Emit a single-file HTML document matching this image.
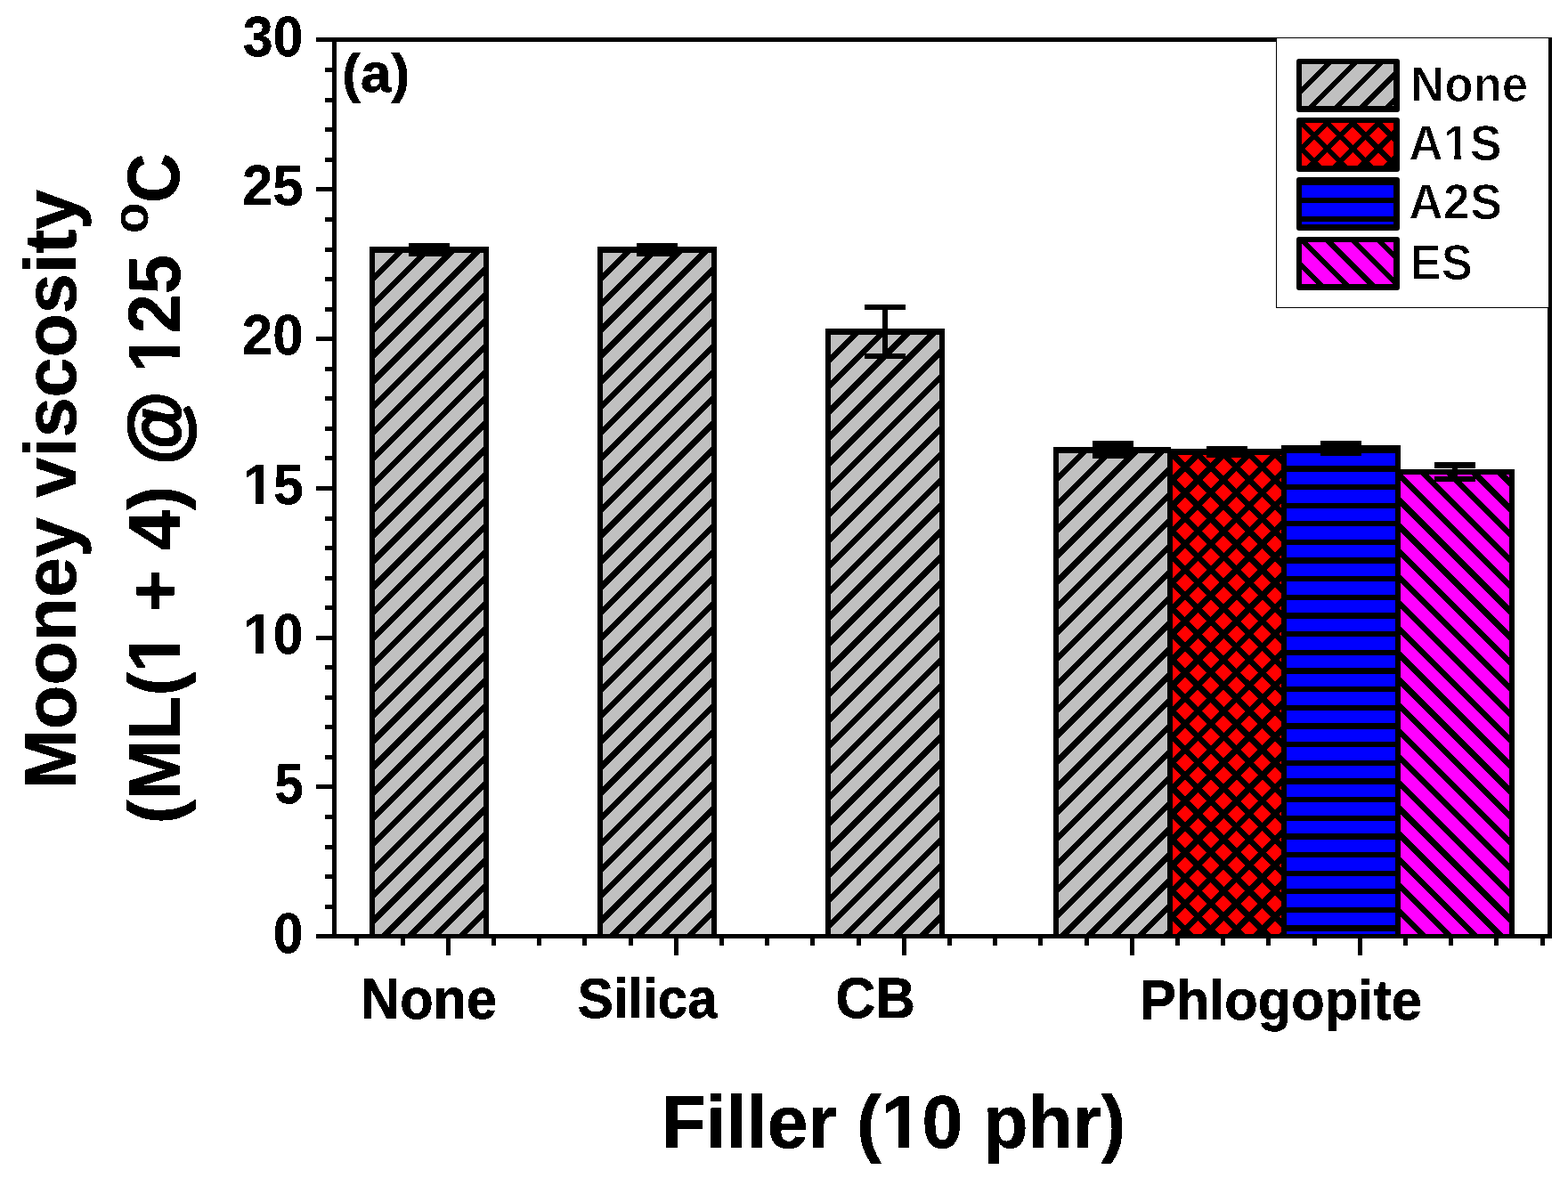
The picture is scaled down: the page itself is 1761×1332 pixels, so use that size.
<!DOCTYPE html>
<html lang="en"><head><meta charset="utf-8"><title>Mooney viscosity chart</title>
<style>html,body{margin:0;padding:0;background:#fff;overflow:hidden}svg{display:block}</style>
</head><body>
<svg width="1761" height="1332" viewBox="0 0 1761 1332" shape-rendering="crispEdges">
<rect width="1761" height="1332" fill="#fff"/>
<rect x="415" y="277" width="134" height="774" fill="#000"/>
<clipPath id="c1"><rect x="421" y="284" width="122" height="767"/></clipPath>
<rect x="421" y="284" width="122" height="767" fill="#c0c0c0"/>
<g clip-path="url(#c1)" stroke="#000" stroke-width="6.65" fill="none">
<path d="M411.00 320.92L553.00 178.92M411.00 349.79L553.00 207.79M411.00 378.66L553.00 236.66M411.00 407.53L553.00 265.53M411.00 436.40L553.00 294.40M411.00 465.27L553.00 323.27M411.00 494.14L553.00 352.14M411.00 523.01L553.00 381.01M411.00 551.88L553.00 409.88M411.00 580.75L553.00 438.75M411.00 609.62L553.00 467.62M411.00 638.49L553.00 496.49M411.00 667.36L553.00 525.36M411.00 696.23L553.00 554.23M411.00 725.10L553.00 583.10M411.00 753.97L553.00 611.97M411.00 782.84L553.00 640.84M411.00 811.71L553.00 669.71M411.00 840.58L553.00 698.58M411.00 869.45L553.00 727.45M411.00 898.32L553.00 756.32M411.00 927.19L553.00 785.19M411.00 956.06L553.00 814.06M411.00 984.93L553.00 842.93M411.00 1013.80L553.00 871.80M411.00 1042.67L553.00 900.67M411.00 1071.54L553.00 929.54M411.00 1100.41L553.00 958.41M411.00 1129.28L553.00 987.28M411.00 1158.15L553.00 1016.15M411.00 1187.02L553.00 1045.02"/>
</g>
<rect x="671" y="277" width="134" height="774" fill="#000"/>
<clipPath id="c2"><rect x="677" y="284" width="122" height="767"/></clipPath>
<rect x="677" y="284" width="122" height="767" fill="#c0c0c0"/>
<g clip-path="url(#c2)" stroke="#000" stroke-width="6.65" fill="none">
<path d="M667.00 320.92L809.00 178.92M667.00 349.79L809.00 207.79M667.00 378.66L809.00 236.66M667.00 407.53L809.00 265.53M667.00 436.40L809.00 294.40M667.00 465.27L809.00 323.27M667.00 494.14L809.00 352.14M667.00 523.01L809.00 381.01M667.00 551.88L809.00 409.88M667.00 580.75L809.00 438.75M667.00 609.62L809.00 467.62M667.00 638.49L809.00 496.49M667.00 667.36L809.00 525.36M667.00 696.23L809.00 554.23M667.00 725.10L809.00 583.10M667.00 753.97L809.00 611.97M667.00 782.84L809.00 640.84M667.00 811.71L809.00 669.71M667.00 840.58L809.00 698.58M667.00 869.45L809.00 727.45M667.00 898.32L809.00 756.32M667.00 927.19L809.00 785.19M667.00 956.06L809.00 814.06M667.00 984.93L809.00 842.93M667.00 1013.80L809.00 871.80M667.00 1042.67L809.00 900.67M667.00 1071.54L809.00 929.54M667.00 1100.41L809.00 958.41M667.00 1129.28L809.00 987.28M667.00 1158.15L809.00 1016.15M667.00 1187.02L809.00 1045.02"/>
</g>
<rect x="927" y="369" width="134" height="682" fill="#000"/>
<clipPath id="c3"><rect x="933" y="376" width="122" height="675"/></clipPath>
<rect x="933" y="376" width="122" height="675" fill="#c0c0c0"/>
<g clip-path="url(#c3)" stroke="#000" stroke-width="6.65" fill="none">
<path d="M923.00 412.92L1065.00 270.92M923.00 441.79L1065.00 299.79M923.00 470.66L1065.00 328.66M923.00 499.53L1065.00 357.53M923.00 528.40L1065.00 386.40M923.00 557.27L1065.00 415.27M923.00 586.14L1065.00 444.14M923.00 615.01L1065.00 473.01M923.00 643.88L1065.00 501.88M923.00 672.75L1065.00 530.75M923.00 701.62L1065.00 559.62M923.00 730.49L1065.00 588.49M923.00 759.36L1065.00 617.36M923.00 788.23L1065.00 646.23M923.00 817.10L1065.00 675.10M923.00 845.97L1065.00 703.97M923.00 874.84L1065.00 732.84M923.00 903.71L1065.00 761.71M923.00 932.58L1065.00 790.58M923.00 961.45L1065.00 819.45M923.00 990.32L1065.00 848.32M923.00 1019.19L1065.00 877.19M923.00 1048.06L1065.00 906.06M923.00 1076.93L1065.00 934.93M923.00 1105.80L1065.00 963.80M923.00 1134.67L1065.00 992.67M923.00 1163.54L1065.00 1021.54M923.00 1192.41L1065.00 1050.41"/>
</g>
<rect x="1183" y="502" width="134" height="549" fill="#000"/>
<clipPath id="c4"><rect x="1189" y="509" width="122" height="542"/></clipPath>
<rect x="1189" y="509" width="122" height="542" fill="#c0c0c0"/>
<g clip-path="url(#c4)" stroke="#000" stroke-width="6.65" fill="none">
<path d="M1179.00 545.92L1321.00 403.92M1179.00 574.79L1321.00 432.79M1179.00 603.66L1321.00 461.66M1179.00 632.53L1321.00 490.53M1179.00 661.40L1321.00 519.40M1179.00 690.27L1321.00 548.27M1179.00 719.14L1321.00 577.14M1179.00 748.01L1321.00 606.01M1179.00 776.88L1321.00 634.88M1179.00 805.75L1321.00 663.75M1179.00 834.62L1321.00 692.62M1179.00 863.49L1321.00 721.49M1179.00 892.36L1321.00 750.36M1179.00 921.23L1321.00 779.23M1179.00 950.10L1321.00 808.10M1179.00 978.97L1321.00 836.97M1179.00 1007.84L1321.00 865.84M1179.00 1036.71L1321.00 894.71M1179.00 1065.58L1321.00 923.58M1179.00 1094.45L1321.00 952.45M1179.00 1123.32L1321.00 981.32M1179.00 1152.19L1321.00 1010.19M1179.00 1181.06L1321.00 1039.06"/>
</g>
<rect x="1315" y="502" width="2" height="2" fill="#fff"/>
<rect x="1311" y="504" width="134" height="547" fill="#000"/>
<clipPath id="c5"><rect x="1317" y="510.6" width="122" height="540.4"/></clipPath>
<rect x="1317" y="510.6" width="122" height="540.4" fill="#ff0000"/>
<g clip-path="url(#c5)" stroke="#000" stroke-width="6.65" fill="none">
<path d="M1307.00 490.85L1449.00 348.85M1307.00 519.70L1449.00 377.70M1307.00 548.55L1449.00 406.55M1307.00 577.40L1449.00 435.40M1307.00 606.25L1449.00 464.25M1307.00 635.10L1449.00 493.10M1307.00 663.95L1449.00 521.95M1307.00 692.80L1449.00 550.80M1307.00 721.65L1449.00 579.65M1307.00 750.50L1449.00 608.50M1307.00 779.35L1449.00 637.35M1307.00 808.20L1449.00 666.20M1307.00 837.05L1449.00 695.05M1307.00 865.90L1449.00 723.90M1307.00 894.75L1449.00 752.75M1307.00 923.60L1449.00 781.60M1307.00 952.45L1449.00 810.45M1307.00 981.30L1449.00 839.30M1307.00 1010.15L1449.00 868.15M1307.00 1039.00L1449.00 897.00M1307.00 1067.85L1449.00 925.85M1307.00 1096.70L1449.00 954.70M1307.00 1125.55L1449.00 983.55M1307.00 1154.40L1449.00 1012.40M1307.00 1183.25L1449.00 1041.25M1307.00 1077.60L1449.00 1219.60M1307.00 1048.75L1449.00 1190.75M1307.00 1019.90L1449.00 1161.90M1307.00 991.05L1449.00 1133.05M1307.00 962.20L1449.00 1104.20M1307.00 933.35L1449.00 1075.35M1307.00 904.50L1449.00 1046.50M1307.00 875.65L1449.00 1017.65M1307.00 846.80L1449.00 988.80M1307.00 817.95L1449.00 959.95M1307.00 789.10L1449.00 931.10M1307.00 760.25L1449.00 902.25M1307.00 731.40L1449.00 873.40M1307.00 702.55L1449.00 844.55M1307.00 673.70L1449.00 815.70M1307.00 644.85L1449.00 786.85M1307.00 616.00L1449.00 758.00M1307.00 587.15L1449.00 729.15M1307.00 558.30L1449.00 700.30M1307.00 529.45L1449.00 671.45M1307.00 500.60L1449.00 642.60M1307.00 471.75L1449.00 613.75M1307.00 442.90L1449.00 584.90M1307.00 414.05L1449.00 556.05M1307.00 385.20L1449.00 527.20"/>
</g>
<rect x="1439" y="500" width="134" height="551" fill="#000"/>
<clipPath id="c6"><rect x="1445" y="509" width="122" height="542"/></clipPath>
<rect x="1445" y="509" width="122" height="542" fill="#0000ff"/>
<g clip-path="url(#c6)" stroke="#000" stroke-width="6.30" fill="none">
<path d="M1440.00 485.05L1572.00 485.05M1440.00 505.70L1572.00 505.70M1440.00 526.35L1572.00 526.35M1440.00 547.00L1572.00 547.00M1440.00 567.65L1572.00 567.65M1440.00 588.30L1572.00 588.30M1440.00 608.95L1572.00 608.95M1440.00 629.60L1572.00 629.60M1440.00 650.25L1572.00 650.25M1440.00 670.90L1572.00 670.90M1440.00 691.55L1572.00 691.55M1440.00 712.20L1572.00 712.20M1440.00 732.85L1572.00 732.85M1440.00 753.50L1572.00 753.50M1440.00 774.15L1572.00 774.15M1440.00 794.80L1572.00 794.80M1440.00 815.45L1572.00 815.45M1440.00 836.10L1572.00 836.10M1440.00 856.75L1572.00 856.75M1440.00 877.40L1572.00 877.40M1440.00 898.05L1572.00 898.05M1440.00 918.70L1572.00 918.70M1440.00 939.35L1572.00 939.35M1440.00 960.00L1572.00 960.00M1440.00 980.65L1572.00 980.65M1440.00 1001.30L1572.00 1001.30M1440.00 1021.95L1572.00 1021.95M1440.00 1042.60L1572.00 1042.60"/>
</g>
<rect x="1567" y="527" width="134" height="524" fill="#000"/>
<clipPath id="c7"><rect x="1573" y="533" width="122" height="518"/></clipPath>
<rect x="1573" y="533" width="122" height="518" fill="#ff00ff"/>
<g clip-path="url(#c7)" stroke="#000" stroke-width="6.65" fill="none">
<path d="M1563.00 1072.57L1705.00 1214.57M1563.00 1043.74L1705.00 1185.74M1563.00 1014.91L1705.00 1156.91M1563.00 986.08L1705.00 1128.08M1563.00 957.25L1705.00 1099.25M1563.00 928.42L1705.00 1070.42M1563.00 899.59L1705.00 1041.59M1563.00 870.76L1705.00 1012.76M1563.00 841.93L1705.00 983.93M1563.00 813.10L1705.00 955.10M1563.00 784.27L1705.00 926.27M1563.00 755.44L1705.00 897.44M1563.00 726.61L1705.00 868.61M1563.00 697.78L1705.00 839.78M1563.00 668.95L1705.00 810.95M1563.00 640.12L1705.00 782.12M1563.00 611.29L1705.00 753.29M1563.00 582.46L1705.00 724.46M1563.00 553.63L1705.00 695.63M1563.00 524.80L1705.00 666.80M1563.00 495.97L1705.00 637.97M1563.00 467.14L1705.00 609.14M1563.00 438.31L1705.00 580.31M1563.00 409.48L1705.00 551.48"/>
</g>
<rect x="459.0" y="273" width="46" height="15" fill="#000"/>
<rect x="715.0" y="273" width="46" height="15" fill="#000"/>
<rect x="971" y="342" width="46" height="6" fill="#000"/>
<rect x="971" y="397" width="46" height="6" fill="#000"/>
<rect x="991" y="345" width="6" height="55" fill="#000"/>
<rect x="1227.0" y="495" width="46" height="20" fill="#000"/>
<rect x="1355.0" y="501" width="46" height="13" fill="#000"/>
<rect x="1483.0" y="495" width="46" height="17" fill="#000"/>
<rect x="1611" y="519" width="46" height="7" fill="#000"/>
<rect x="1611" y="535" width="46" height="6" fill="#000"/>
<rect x="1631" y="522" width="6" height="16" fill="#000"/>
<rect x="373" y="42" width="5" height="1012" fill="#000"/>
<rect x="1738" y="42" width="5" height="1012" fill="#000"/>
<rect x="355" y="42" width="1388" height="5" fill="#000"/>
<rect x="355" y="1049" width="1388" height="5" fill="#000"/>
<rect x="355" y="1049" width="18" height="5" fill="#000"/>
<rect x="365" y="1016" width="8" height="5" fill="#000"/>
<rect x="365" y="982" width="8" height="5" fill="#000"/>
<rect x="365" y="949" width="8" height="5" fill="#000"/>
<rect x="365" y="915" width="8" height="5" fill="#000"/>
<rect x="355" y="881" width="18" height="5" fill="#000"/>
<rect x="365" y="848" width="8" height="5" fill="#000"/>
<rect x="365" y="814" width="8" height="5" fill="#000"/>
<rect x="365" y="781" width="8" height="5" fill="#000"/>
<rect x="365" y="747" width="8" height="5" fill="#000"/>
<rect x="355" y="714" width="18" height="5" fill="#000"/>
<rect x="365" y="680" width="8" height="5" fill="#000"/>
<rect x="365" y="647" width="8" height="5" fill="#000"/>
<rect x="365" y="613" width="8" height="5" fill="#000"/>
<rect x="365" y="580" width="8" height="5" fill="#000"/>
<rect x="355" y="546" width="18" height="5" fill="#000"/>
<rect x="365" y="512" width="8" height="5" fill="#000"/>
<rect x="365" y="479" width="8" height="5" fill="#000"/>
<rect x="365" y="445" width="8" height="5" fill="#000"/>
<rect x="365" y="412" width="8" height="5" fill="#000"/>
<rect x="355" y="378" width="18" height="5" fill="#000"/>
<rect x="365" y="345" width="8" height="5" fill="#000"/>
<rect x="365" y="311" width="8" height="5" fill="#000"/>
<rect x="365" y="278" width="8" height="5" fill="#000"/>
<rect x="365" y="244" width="8" height="5" fill="#000"/>
<rect x="355" y="210" width="18" height="5" fill="#000"/>
<rect x="365" y="177" width="8" height="5" fill="#000"/>
<rect x="365" y="143" width="8" height="5" fill="#000"/>
<rect x="365" y="110" width="8" height="5" fill="#000"/>
<rect x="365" y="76" width="8" height="5" fill="#000"/>
<rect x="355" y="42" width="18" height="5" fill="#000"/>
<rect x="398" y="1054" width="5" height="8" fill="#000"/>
<rect x="450" y="1054" width="5" height="8" fill="#000"/>
<rect x="501" y="1054" width="5" height="19" fill="#000"/>
<rect x="552" y="1054" width="5" height="8" fill="#000"/>
<rect x="603" y="1054" width="5" height="8" fill="#000"/>
<rect x="654" y="1054" width="5" height="8" fill="#000"/>
<rect x="706" y="1054" width="5" height="8" fill="#000"/>
<rect x="757" y="1054" width="5" height="19" fill="#000"/>
<rect x="808" y="1054" width="5" height="8" fill="#000"/>
<rect x="859" y="1054" width="5" height="8" fill="#000"/>
<rect x="910" y="1054" width="5" height="8" fill="#000"/>
<rect x="962" y="1054" width="5" height="8" fill="#000"/>
<rect x="1013" y="1054" width="5" height="19" fill="#000"/>
<rect x="1064" y="1054" width="5" height="8" fill="#000"/>
<rect x="1115" y="1054" width="5" height="8" fill="#000"/>
<rect x="1166" y="1054" width="5" height="8" fill="#000"/>
<rect x="1218" y="1054" width="5" height="8" fill="#000"/>
<rect x="1269" y="1054" width="5" height="19" fill="#000"/>
<rect x="1320" y="1054" width="5" height="8" fill="#000"/>
<rect x="1371" y="1054" width="5" height="8" fill="#000"/>
<rect x="1422" y="1054" width="5" height="8" fill="#000"/>
<rect x="1474" y="1054" width="5" height="8" fill="#000"/>
<rect x="1525" y="1054" width="5" height="19" fill="#000"/>
<rect x="1576" y="1054" width="5" height="8" fill="#000"/>
<rect x="1627" y="1054" width="5" height="8" fill="#000"/>
<rect x="1678" y="1054" width="5" height="8" fill="#000"/>
<rect x="1730" y="1054" width="5" height="8" fill="#000"/>
<rect x="1433" y="42" width="307" height="304" fill="#000"/>
<rect x="1434" y="43" width="305" height="302" fill="#fff"/>
<rect x="1739" y="42" width="4" height="304" fill="#000"/>
<rect x="1456" y="66" width="116" height="60" rx="3" ry="3" fill="#000" shape-rendering="auto"/>
<clipPath id="c8"><rect x="1462" y="72" width="103" height="47"/></clipPath>
<rect x="1462" y="72" width="103" height="47" fill="#c0c0c0"/>
<g clip-path="url(#c8)" stroke="#000" stroke-width="5.80" fill="none">
<path d="M1452.00 111.37L1575.00 -11.63M1452.00 140.24L1575.00 17.24M1452.00 169.11L1575.00 46.11M1452.00 197.98L1575.00 74.98M1452.00 226.85L1575.00 103.85"/>
</g>
<rect x="1456" y="132" width="116" height="61" rx="3" ry="3" fill="#000" shape-rendering="auto"/>
<clipPath id="c9"><rect x="1462" y="138" width="103" height="48"/></clipPath>
<rect x="1462" y="138" width="103" height="48" fill="#ff0000"/>
<g clip-path="url(#c9)" stroke="#000" stroke-width="5.80" fill="none">
<path d="M1452.00 118.85L1575.00 -4.15M1452.00 147.70L1575.00 24.70M1452.00 176.55L1575.00 53.55M1452.00 205.40L1575.00 82.40M1452.00 234.25L1575.00 111.25M1452.00 263.10L1575.00 140.10M1452.00 291.95L1575.00 168.95M1452.00 215.15L1575.00 338.15M1452.00 186.30L1575.00 309.30M1452.00 157.45L1575.00 280.45M1452.00 128.60L1575.00 251.60M1452.00 99.75L1575.00 222.75M1452.00 70.90L1575.00 193.90M1452.00 42.05L1575.00 165.05M1452.00 13.20L1575.00 136.20"/>
</g>
<rect x="1456" y="199" width="116" height="60" rx="3" ry="3" fill="#000" shape-rendering="auto"/>
<clipPath id="c10"><rect x="1462" y="205" width="103" height="47"/></clipPath>
<rect x="1462" y="205" width="103" height="47" fill="#0000ff"/>
<g clip-path="url(#c10)" stroke="#000" stroke-width="5.80" fill="none">
<path d="M1457.00 184.05L1570.00 184.05M1457.00 204.70L1570.00 204.70M1457.00 225.35L1570.00 225.35M1457.00 246.00L1570.00 246.00"/>
</g>
<rect x="1456" y="266" width="116" height="60" rx="3" ry="3" fill="#000" shape-rendering="auto"/>
<clipPath id="c11"><rect x="1462" y="272" width="103" height="47"/></clipPath>
<rect x="1462" y="272" width="103" height="47" fill="#ff00ff"/>
<g clip-path="url(#c11)" stroke="#000" stroke-width="5.80" fill="none">
<path d="M1452.00 346.29L1575.00 469.29M1452.00 317.46L1575.00 440.46M1452.00 288.63L1575.00 411.63M1452.00 259.80L1575.00 382.80M1452.00 230.97L1575.00 353.97M1452.00 202.14L1575.00 325.14M1452.00 173.31L1575.00 296.31M1452.00 144.48L1575.00 267.48"/>
</g>
<filter id="al" x="0" y="0" width="1761" height="1332" filterUnits="userSpaceOnUse" color-interpolation-filters="sRGB"><feComponentTransfer><feFuncR type="discrete" tableValues="0 1"/><feFuncG type="discrete" tableValues="0 1"/><feFuncB type="discrete" tableValues="0 1"/><feFuncA type="discrete" tableValues="0 1"/></feComponentTransfer></filter>
<clipPath id="k1" clipPathUnits="userSpaceOnUse"><path clip-rule="evenodd" d="M-60-130H760V60H-60ZM3.00-10.2H22.90V3H3.00ZM37.50-10.2H55.50V3H37.50Z"/></clipPath>
<clipPath id="k2" clipPathUnits="userSpaceOnUse"><path clip-rule="evenodd" d="M-60-130H760V60H-60ZM3.00-10.2H22.90V3H3.00ZM37.50-10.2H55.50V3H37.50Z"/></clipPath>
<clipPath id="k3" clipPathUnits="userSpaceOnUse"><path clip-rule="evenodd" d="M-60-130H760V60H-60ZM303.05-10.2H322.95V3H303.05ZM337.55-10.2H355.55V3H337.55Z"/></clipPath>
<clipPath id="k4" clipPathUnits="userSpaceOnUse"><path clip-rule="evenodd" d="M-60-130H760V60H-60ZM75.20-10.2H95.10V3H75.20ZM109.70-10.2H127.70V3H109.70Z"/></clipPath>
<clipPath id="k5" clipPathUnits="userSpaceOnUse"><path clip-rule="evenodd" d="M-60-130H760V60H-60ZM213.98-10.2H233.88V3H213.98ZM248.48-10.2H266.48V3H248.48Z"/></clipPath>
<clipPath id="k6" clipPathUnits="userSpaceOnUse"><path clip-rule="evenodd" d="M-60-130H760V60H-60ZM3.00-10.2H22.90V3H3.00ZM37.50-10.2H55.50V3H37.50Z"/></clipPath>
<g filter="url(#al)" font-family="'Liberation Sans', sans-serif" font-weight="bold" fill="#000" shape-rendering="auto" text-rendering="geometricPrecision">
<text transform="translate(272.68 62.62) scale(0.6095 0.6380)" font-size="100" stroke="#000" stroke-width="0.55" stroke-linejoin="miter">30</text>
<text transform="translate(271.89 230.46) scale(0.6180 0.6380)" font-size="100" stroke="#000" stroke-width="0.55" stroke-linejoin="miter">25</text>
<text transform="translate(271.79 398.29) scale(0.6177 0.6380)" font-size="100" stroke="#000" stroke-width="0.55" stroke-linejoin="miter">20</text>
<text transform="translate(273.16 566.12) scale(0.6073 0.6380)" font-size="100" stroke="#000" stroke-width="0.55" stroke-linejoin="miter" clip-path="url(#k1)">15</text>
<text transform="translate(273.17 733.96) scale(0.6049 0.6380)" font-size="100" stroke="#000" stroke-width="0.55" stroke-linejoin="miter" clip-path="url(#k2)">10</text>
<text transform="translate(308.51 901.79) scale(0.5791 0.6380)" font-size="100" stroke="#000" stroke-width="0.55" stroke-linejoin="miter">5</text>
<text transform="translate(306.83 1069.62) scale(0.6062 0.6380)" font-size="100" stroke="#000" stroke-width="0.55" stroke-linejoin="miter">0</text>
<text transform="translate(404.92 1143.65) scale(0.6127 0.6420)" font-size="100" stroke="#000" stroke-width="1.08" stroke-linejoin="miter">None</text>
<text transform="translate(648.65 1142.65) scale(0.6004 0.6320)" font-size="100" stroke="#000" stroke-width="1.09" stroke-linejoin="miter">Silica</text>
<text transform="translate(938.43 1142.65) scale(0.6190 0.6450)" font-size="100" stroke="#000" stroke-width="1.07" stroke-linejoin="miter">CB</text>
<text transform="translate(1279.92 1144.65) scale(0.6133 0.6320)" font-size="100" stroke="#000" stroke-width="1.09" stroke-linejoin="miter">Phlogopite</text>
<text transform="translate(742.75 1288.65) scale(0.8233 0.8370)" font-size="100" stroke="#000" stroke-width="0.83" stroke-linejoin="miter" clip-path="url(#k3)">Filler (10 phr)</text>
<text transform="translate(384.20 102.95) scale(0.6225 0.6070)" font-size="100" stroke="#000" stroke-width="1.14" stroke-linejoin="miter">(a)</text>
<text transform="translate(1584.03 113.50) scale(0.5289 0.5624)" font-size="100" stroke="#fff" stroke-width="1.81" stroke-linejoin="miter">None</text>
<text transform="translate(1581.88 179.50) scale(0.5382 0.5624)" font-size="100" stroke="#fff" stroke-width="1.81" stroke-linejoin="miter" clip-path="url(#k4)">A1S</text>
<text transform="translate(1581.88 246.40) scale(0.5398 0.5624)" font-size="100" stroke="#fff" stroke-width="1.81" stroke-linejoin="miter">A2S</text>
<text transform="translate(1583.87 313.50) scale(0.5240 0.5624)" font-size="100" stroke="#fff" stroke-width="1.81" stroke-linejoin="miter">ES</text>
<text transform="translate(85.25 886.15) rotate(-90) scale(0.8076 0.8270)" font-size="100" stroke="#000" stroke-width="0.84" stroke-linejoin="miter">Mooney viscosity</text>
<text transform="translate(201.75 925.14) rotate(-90) scale(0.8080 0.8270)" font-size="100" stroke="#000" stroke-width="0.84" stroke-linejoin="miter" clip-path="url(#k5)">(ML(1 + 4)</text>
<text transform="translate(206.40 522.09) rotate(-90) scale(0.8471 0.8750)" font-size="100" stroke="#000" stroke-width="3.2" stroke-linejoin="round">@</text>
<text transform="translate(201.92 418.67) rotate(-90) scale(0.7956 0.8310)" font-size="100" stroke="#000" stroke-width="0.42" stroke-linejoin="miter" clip-path="url(#k6)">125</text>
<text transform="translate(201.40 227.91) rotate(-90) scale(0.7773 0.8294)" font-size="100" stroke="#000" stroke-width="0.48" stroke-linejoin="miter">C</text>
<text transform="translate(165.80 262.27) rotate(-90) scale(0.5671 0.5670)" font-size="100" >o</text>
</g>
</svg>
</body></html>
